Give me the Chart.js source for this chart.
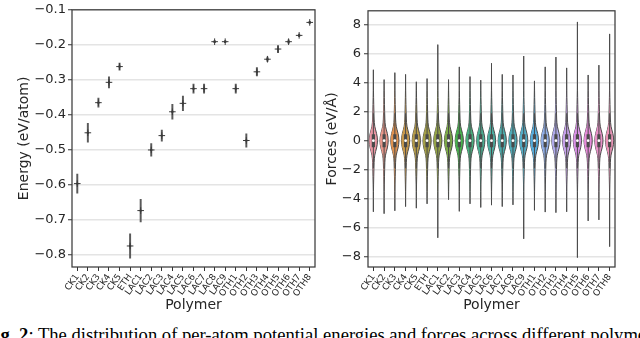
<!DOCTYPE html>
<html><head><meta charset="utf-8">
<script src="https://cdn.jsdelivr.net/npm/chart.js@4.4.1/dist/chart.umd.min.js"></script>
<style>
html,body{margin:0;padding:0;background:#fff;width:640px;height:338px;overflow:hidden;position:relative}
#c1{position:absolute;left:0;top:0}
#c2{position:absolute;left:320px;top:0}
#cap{position:absolute;left:-16px;top:326px;font-family:"Liberation Serif","Times New Roman",serif;font-size:18.6px;line-height:18px;white-space:nowrap;color:#000}
</style></head><body>
<canvas id="c1" width="320" height="318"></canvas>
<canvas id="c2" width="320" height="318"></canvas>
<div id="cap"><b>Fig. 2</b>: The distribution of per-atom potential energies and forces across different polymers.</div>
<script>
// ---------------- DATA ----------------
const polymers = ["CK1","CK2","CK3","CK4","CK5","ETH","LAC1","LAC2","LAC3","LAC4","LAC5","LAC6","LAC7","LAC8","LAC9","OTH1","OTH2","OTH3","OTH4","OTH5","OTH6","OTH7","OTH8"];
const energyMean = [-0.596,-0.451,-0.365,-0.307,-0.262,-0.774,-0.673,-0.500,-0.459,-0.391,-0.367,-0.325,-0.325,-0.191,-0.191,-0.325,-0.473,-0.277,-0.241,-0.212,-0.191,-0.173,-0.136];
const energyErr  = [0.027,0.027,0.013,0.016,0.010,0.035,0.032,0.018,0.016,0.021,0.021,0.013,0.013,0.003,0.003,0.013,0.019,0.012,0.006,0.010,0.005,0.004,0.003];
const energyTicks = [-0.8,-0.7,-0.6,-0.5,-0.4,-0.3,-0.2,-0.1];
const forceMax = [4.91,4.23,4.71,4.59,4.08,4.30,6.65,4.23,5.11,4.44,4.19,5.36,4.59,4.55,5.86,4.14,5.11,5.79,5.04,8.22,4.55,5.23,7.39];
const forceMin = [-4.92,-5.05,-4.85,-4.56,-4.67,-4.37,-6.72,-4.08,-4.89,-4.37,-4.62,-4.46,-4.56,-4.44,-6.79,-4.82,-4.94,-4.98,-4.92,-8.09,-5.55,-5.48,-7.33];
const forceQ1 = [-0.45,-0.45,-0.45,-0.45,-0.45,-0.45,-0.45,-0.45,-0.45,-0.45,-0.45,-0.45,-0.45,-0.45,-0.45,-0.45,-0.45,-0.45,-0.45,-0.45,-0.45,-0.45,-0.45];
const forceQ3 = [0.45,0.45,0.45,0.45,0.45,0.45,0.45,0.45,0.45,0.45,0.45,0.45,0.45,0.45,0.45,0.45,0.45,0.45,0.45,0.45,0.45,0.45,0.45];
const forceWhiskerLo = [-1.9,-1.9,-1.9,-1.9,-1.9,-1.9,-1.9,-1.9,-1.9,-1.9,-1.9,-1.9,-1.9,-1.9,-1.9,-1.9,-1.9,-1.9,-1.9,-1.9,-1.9,-1.9,-1.9];
const forceWhiskerHi = [1.9,1.9,1.9,1.9,1.9,1.9,1.9,1.9,1.9,1.9,1.9,1.9,1.9,1.9,1.9,1.9,1.9,1.9,1.9,1.9,1.9,1.9,1.9];
const forceMedian = [0,0,0,0,0,0,0,0,0,0,0,0,0,0,0,0,0,0,0,0,0,0,0];
const forceTicks = [-8,-6,-4,-2,0,2,4,6,8];
// shared violin outline: |force| levels and half-width (category units)
const violinProfileY = [0, 0.25, 0.5, 0.75, 1.0, 1.25, 1.5, 2.0, 2.5, 3.0, 3.5, 4.0];
const violinProfileW = [0.38, 0.36, 0.30, 0.21, 0.13, 0.09, 0.07, 0.05, 0.035, 0.02, 0.01, 0.004];

// ---------------- STYLE HELPERS ----------------
function hsluvToRgb(H,S,L){
  const M=[[3.240969941904521,-1.537383177570093,-0.498610760293],[-0.96924363628087,1.87596750150772,0.041555057407175],[0.055630079696993,-0.20397695888897,1.056971514242878]];
  const kappa=903.2962962962963, eps=0.0088564516790356308, refU=0.19783000664283681, refV=0.468319994938791;
  const sub1=Math.pow(L+16,3)/1560896, sub2=sub1>eps?sub1:L/kappa;
  const hr=H/180*Math.PI; let maxC=Infinity;
  for(let c=0;c<3;c++){const [m1,m2,m3]=M[c];
    for(let t=0;t<2;t++){
      const top1=(284517*m1-94839*m3)*sub2;
      const top2=(838422*m3+769860*m2+731718*m1)*L*sub2-769860*t*L;
      const bottom=(632260*m3-126452*m2)*sub2+126452*t;
      const len=(top2/bottom)/(Math.sin(hr)-(top1/bottom)*Math.cos(hr));
      if(len>=0) maxC=Math.min(maxC,len);
    }}
  const C=maxC/100*S, U=Math.cos(hr)*C, V=Math.sin(hr)*C;
  const vu=U/(13*L)+refU, vv=V/(13*L)+refV;
  const Y=L<=8?L/kappa:Math.pow((L+16)/116,3);
  const X=-(9*Y*vu)/((vu-4)*vv-vu*vv);
  const Z=(9*Y-15*vv*Y-vv*X)/(3*vv);
  const f=c=>Math.min(1,Math.max(0,c<=0.0031308?12.92*c:1.055*Math.pow(c,1/2.4)-0.055));
  return M.map(r=>f(r[0]*X+r[1]*Y+r[2]*Z));
}
function rgb2hsl(r,g,b){const mx=Math.max(r,g,b),mn=Math.min(r,g,b);let h=0,s=0;const l=(mx+mn)/2;
  if(mx!==mn){const d=mx-mn;s=l>0.5?d/(2-mx-mn):d/(mx+mn);
    if(mx===r)h=(g-b)/d+(g<b?6:0);else if(mx===g)h=(b-r)/d+2;else h=(r-g)/d+4;h/=6;}
  return [h,s,l];}
function hsl2rgb(h,s,l){if(s===0)return[l,l,l];const q=l<0.5?l*(1+s):l+s-l*s,p=2*l-q;
  const f=t=>{if(t<0)t+=1;if(t>1)t-=1;if(t<1/6)return p+(q-p)*6*t;if(t<1/2)return q;if(t<2/3)return p+(q-p)*(2/3-t)*6;return p;};
  return [f(h+1/3),f(h),f(h-1/3)];}
function paletteColor(k,n){
  const H=((k/n+0.01)%1)*359;
  const [r,g,b]=hsluvToRgb(H,89.1,69.3);
  const [h,s,l]=rgb2hsl(r,g,b);
  const [r2,g2,b2]=hsl2rgb(h,s*0.75,l);
  return `rgb(${Math.round(r2*255)},${Math.round(g2*255)},${Math.round(b2*255)})`;
}
const GRAY='#4a4a4a', TEXT='#262626', GRID='#e4e4e4', FONT='DejaVu Sans';
const minusFmt=(v,d)=>(v<0?'\u2212':'')+Math.abs(v).toFixed(d);
const frame={id:'frame',afterDatasetsDraw(chart){const {ctx,chartArea:a}=chart;ctx.save();ctx.strokeStyle='#3c3c3c';ctx.lineWidth=1.25;ctx.strokeRect(a.left,a.top,a.right-a.left,a.bottom-a.top);ctx.restore();}};

function xAxisCommon(){
  return {
    border:{display:false},
    grid:{display:true,drawOnChartArea:false,drawTicks:true,tickLength:4,tickColor:'#333',tickWidth:1,offset:false},
    ticks:{autoSkip:false,minRotation:55,maxRotation:55,font:{family:FONT,size:9},color:TEXT,padding:1},
    title:{display:true,text:'Polymer',font:{family:FONT,size:14},color:TEXT,padding:{top:0,bottom:4}},
    afterFit:s=>{s.height=51;}
  };
}

// ---------------- LEFT: energies ----------------
const errBars=energyMean.map((v,i)=>[v-energyErr[i],v+energyErr[i]]);
const lx=xAxisCommon(); lx.offset=true;
new Chart(document.getElementById('c1'),{
  data:{labels:polymers,datasets:[
    {type:'line',data:energyMean,showLine:false,pointStyle:'cross',pointRadius:3.3,pointBorderWidth:1,pointBorderColor:'#3a3a3a',order:0},
    {type:'line',data:energyMean,showLine:false,pointStyle:'circle',pointRadius:1.2,pointBorderWidth:0,pointBackgroundColor:'#3a3a3a',order:0},
    {type:'bar',data:errBars,backgroundColor:'#5a5a5a',barThickness:1.3,order:1}
  ]},
  options:{responsive:false,animation:false,devicePixelRatio:1,
    layout:{padding:{top:5,right:2,left:0,bottom:0}},
    plugins:{legend:{display:false},tooltip:{enabled:false}},
    scales:{
      x:lx,
      y:{min:-0.834,max:-0.1,
        afterBuildTicks:s=>{s.ticks=energyTicks.map(v=>({value:v}));},
        border:{display:false},
        grid:{color:GRID,lineWidth:1.5,tickColor:'#333',tickLength:4,tickWidth:1},
        ticks:{callback:v=>minusFmt(v,1),font:{family:FONT,size:13},color:TEXT,padding:2},
        title:{display:true,text:'Energy (eV/atom)',font:{family:FONT,size:14},color:TEXT,padding:{top:16,bottom:2}},
        afterFit:s=>{s.width=72;}
      }
    }
  },
  plugins:[frame]
});

// ---------------- RIGHT: forces (violins) ----------------
const ds=[];
polymers.forEach((p,i)=>{
  ds.push({data:[{x:i,y:forceMedian[i]}],showLine:false,pointRadius:1.4,pointBorderWidth:0,pointBackgroundColor:'#fff',order:0});
  ds.push({data:[{x:i,y:forceQ1[i]},{x:i,y:forceQ3[i]}],borderColor:GRAY,borderWidth:3.2,pointRadius:0,order:1,borderCapStyle:'butt'});
  ds.push({data:[{x:i,y:forceWhiskerLo[i]},{x:i,y:forceWhiskerHi[i]}],borderColor:GRAY,borderWidth:1,pointRadius:0,order:2});
});
polymers.forEach((p,i)=>{
  const pts=[{y:forceMin[i],w:0}];
  for(let k=violinProfileY.length-1;k>=1;k--) if(violinProfileY[k]< -forceMin[i]) pts.push({y:-violinProfileY[k],w:violinProfileW[k]});
  pts.push({y:0,w:violinProfileW[0]});
  for(let k=1;k<violinProfileY.length;k++) if(violinProfileY[k]<forceMax[i]) pts.push({y:violinProfileY[k],w:violinProfileW[k]});
  pts.push({y:forceMax[i],w:0});
  const col=paletteColor(i,polymers.length);
  ds.push({data:pts.map(q=>({x:i+q.w,y:q.y})),fill:'+1',backgroundColor:col,borderColor:GRAY,borderWidth:1,pointRadius:0,cubicInterpolationMode:'monotone',order:3});
  ds.push({data:pts.map(q=>({x:i-q.w,y:q.y})),fill:false,borderColor:GRAY,borderWidth:1,pointRadius:0,cubicInterpolationMode:'monotone',order:3});
});
const rx=xAxisCommon();
rx.type='linear'; rx.min=-0.5; rx.max=polymers.length-0.5;
rx.afterBuildTicks=s=>{s.ticks=polymers.map((p,i)=>({value:i}));};
rx.ticks.callback=(v,idx)=>polymers[idx];
new Chart(document.getElementById('c2'),{
  type:'line',
  data:{datasets:ds},
  options:{responsive:false,animation:false,devicePixelRatio:1,indexAxis:'y',
    layout:{padding:{top:5,right:25,left:0,bottom:0}},
    plugins:{legend:{display:false},tooltip:{enabled:false}},
    scales:{
      x:rx,
      y:{type:'linear',min:-8.74,max:8.99,
        afterBuildTicks:s=>{s.ticks=forceTicks.map(v=>({value:v}));},
        border:{display:false},
        grid:{color:GRID,lineWidth:1.5,tickColor:'#333',tickLength:4,tickWidth:1},
        ticks:{callback:v=>minusFmt(v,0),font:{family:FONT,size:13},color:TEXT,padding:3},
        title:{display:true,text:'Forces (eV/\u00c5)',font:{family:FONT,size:14},color:TEXT,padding:{top:4,bottom:2}},
        afterFit:s=>{s.width=48;}
      }
    }
  },
  plugins:[frame]
});
</script>
</body></html>
